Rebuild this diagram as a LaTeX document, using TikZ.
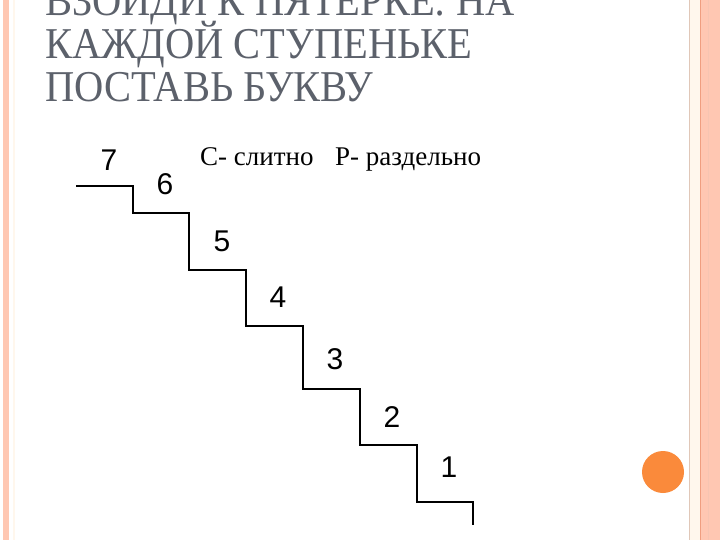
\documentclass[tikz,border=0pt]{standalone}
\usepackage{fontspec}
\usepackage{tikz}
\usetikzlibrary{positioning}
\newfontfamily\titlefont{Liberation Serif}
\newfontfamily\stepfont{Liberation Sans}
\definecolor{mtitle}{rgb}{0.36, 0.38, 0.42}
\definecolor{msalmon}{rgb}{1, 0.78, 0.70}
\definecolor{mline}{rgb}{0.94, 0.62, 0.50}
\definecolor{mtan}{rgb}{0.88, 0.78, 0.72}
\definecolor{mcream}{rgb}{1, 0.97, 0.93}
\definecolor{morange}{rgb}{0.98, 0.54, 0.23}
\tikzset{titleline/.style = {anchor=base west, inner sep=0pt, text=mtitle,
                             font=\titlefont\fontsize{44}{44}\selectfont},
         stepnum/.style = {inner sep=0pt, font=\stepfont\fontsize{30}{30}\selectfont},
         keytext/.style = {anchor=base west, inner sep=0pt,
                           font=\titlefont\fontsize{27}{27}\selectfont}}

\begin{document}
\begin{tikzpicture}[x=1pt, y=-1pt]
    \useasboundingbox (0, 0) rectangle (720, 540);
    \fill [white] (0, 0) rectangle (720, 540);

    % frame
    \begin{scope}
      \fill [msalmon] (3, 0) rectangle (9, 540);
      \draw [mcream, line width=1.2] (14, 0) -- (14, 540);
      \fill [mcream] (690, 0) rectangle (700, 540);
      \draw [mtan, line width=1] (689, 0) -- (689, 540);
      \fill [msalmon] (701, 0) rectangle (720, 540);
      \draw [mline, line width=1] (700.5, 0) -- (700.5, 540);
      \draw [mline!60, line width=0.8] (708, 0) -- (708, 540);
      \fill [morange] (663, 472) circle (21);
    \end{scope}

    % title
    \node [titleline] (title1) at (45, 16) {\scalebox{0.92}[1]{ВЗОЙДИ К ПЯТЕРКЕ: НА}};
    \node [titleline] (title2) at (45, 59) {\scalebox{0.92}[1]{КАЖДОЙ СТУПЕНЬКЕ}};
    \node [titleline] (title3) at (45, 102) {\scalebox{0.92}[1]{ПОСТАВЬ БУКВУ}};

    \node [keytext] (together) at (200, 166) {С- слитно};
    \node [keytext] (apart) at (335, 166) {Р- раздельно};

    % stairs
    \draw [black, line width=1.2] (76, 186) -- (133, 186) -- (133, 213) -- (189, 213)
      -- (189, 270) -- (246, 270) -- (246, 326) -- (303, 326) -- (303, 389)
      -- (360, 389) -- (360, 445) -- (417, 445) -- (417, 502) -- (473, 502) -- (473, 525);

    \node [stepnum] (s7) at (109, 160) {7};
    \node [stepnum] (s6) at (165, 184) {6};
    \node [stepnum] (s5) at (222, 241) {5};
    \node [stepnum] (s4) at (278, 297) {4};
    \node [stepnum] (s3) at (335, 359) {3};
    \node [stepnum] (s2) at (392, 417) {2};
    \node [stepnum] (s1) at (449, 467) {1};
  \end{tikzpicture}
\end{document}
